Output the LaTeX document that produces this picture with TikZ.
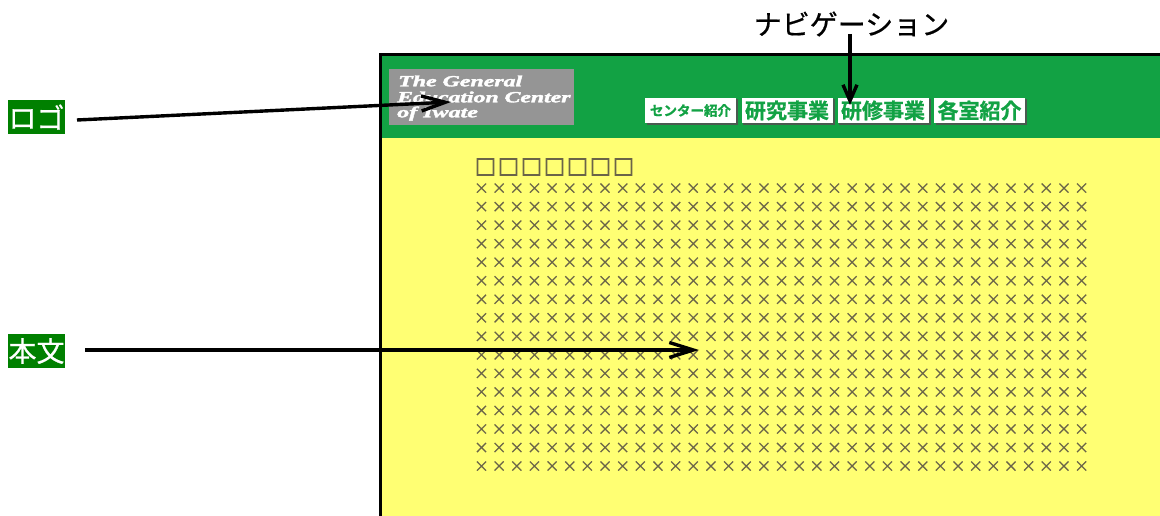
\documentclass[tikz,border=0pt]{standalone}
\usepackage{fontspec}
\usetikzlibrary{arrows.meta}
\setmainfont{Liberation Serif}
\newfontfamily\jp{Noto Sans CJK JP}[FakeBold=0.6]
\newfontfamily\jpheavy{Noto Sans CJK JP}[FakeBold=4]
\newfontfamily\jpb{Noto Sans CJK JP Bold}[FakeBold=1]
\newfontfamily\logofont{Liberation Serif}[BoldItalicFont={Liberation Serif Bold Italic},FakeBold=2]
\definecolor{hdrgreen}{HTML}{12A244}
\definecolor{pageyellow}{HTML}{FFFF73}
\definecolor{logogray}{HTML}{959595}
\definecolor{lblgreen}{HTML}{008000}
\definecolor{mockgray}{HTML}{6A6448}
\definecolor{btnshadow}{HTML}{4A5A50}
\tikzset{
  x=1pt,y=-1pt,
  calllabel/.style={fill=lblgreen,text=white,font=\jp\fontsize{28}{28}\selectfont,inner sep=0pt,minimum width=57pt,minimum height=34pt,anchor=center},
  navbtn/.style={fill=white,inner sep=0pt,minimum width=91pt,minimum height=25pt,text=hdrgreen,font=\jpb\fontsize{21}{21}\selectfont,anchor=center},
  btnshade/.style={fill=btnshadow,draw=none},
  crossmark/.style={text=mockgray,font=\jp\fontsize{15}{15}\selectfont,inner sep=0pt,anchor=center},
  boxmark/.style={text=mockgray,font=\jpheavy\fontsize{21}{21}\selectfont,inner sep=0pt,anchor=center},
  callarrow/.style={line width=3.4pt,draw=black,-{Straight Barb[length=24pt,width=15pt,line width=3.4pt]}},
  shortarrow/.style={line width=3.4pt,draw=black,-{Straight Barb[length=16pt,width=14pt,line width=3.4pt]}},
  logotext/.style={text=white,font=\logofont\bfseries\itshape\fontsize{15.5}{15.5}\selectfont,inner sep=0pt,anchor=west}
}
\begin{document}
\begin{tikzpicture}
\useasboundingbox (0,0) rectangle (1160,516);
% page
\fill[pageyellow] (380,138) rectangle (1160,516);
\fill[hdrgreen] (379,55) rectangle (1160,138);
\draw[line width=2.6pt,black] (380.7,516) -- (380.7,54.7) -- (1160,54.7);
% logo
\node[fill=logogray,minimum width=185pt,minimum height=56pt,inner sep=0pt,anchor=center] (logo) at (481,97) {};
\node[logotext] (logoa) at (398,81) {\scalebox{1.54}[1]{The General}};
\node[logotext] (logob) at (397,97) {\scalebox{1.53}[1]{Education Center}};
\node[logotext] (logoc) at (397,113.5) {\scalebox{1.55}[1]{of Iwate}};
% navigation buttons
\fill[btnshade] (647,99) rectangle (738,125);
\fill[btnshade] (743,99) rectangle (835,125);
\fill[btnshade] (839,99) rectangle (931,125);
\fill[btnshade] (936,99) rectangle (1027,125);
\node[navbtn,font=\jpb\fontsize{13.5}{13.5}\selectfont] (bta) at (690.5,110.5) {センター紹介};
\node[navbtn] (btb) at (787,110.5) {研究事業};
\node[navbtn] (btc) at (883,110.5) {研修事業};
\node[navbtn] (btd) at (979.5,110.5) {各室紹介};
% heading placeholder
\foreach \k in {0,...,6}
  \node[boxmark] (box\k) at ({485.5+23*\k},167) {□};
% body placeholder
\foreach \r in {0,...,15}
  \foreach \c in {0,...,34}
    \node[crossmark] (cell\r-\c) at ({481.5+17.65*\c},{188.5+18.53*\r}) {×};
% call-out labels
\node[calllabel] (lblogo) at (36.5,117) {ロゴ};
\node[calllabel] (lbbody) at (36.5,351) {本文};
\node[inner sep=0pt,font=\jp\fontsize{28}{28}\selectfont,anchor=center] (lbnav) at (851.5,24) {ナビゲーション};
\coordinate (logotip) at (451,102);
\coordinate (bodytip) at (699,350);
\coordinate (navtip) at (850,105);
\coordinate (lblogoend) at (77,120);
\coordinate (lbbodyend) at (85,350);
\coordinate (lbnavend) at (850,34);
\draw[callarrow] (lblogoend) -- (logotip);
\draw[callarrow] (lbbodyend) -- (bodytip);
\draw[shortarrow] (lbnavend) -- (navtip);
\end{tikzpicture}
\end{document}
